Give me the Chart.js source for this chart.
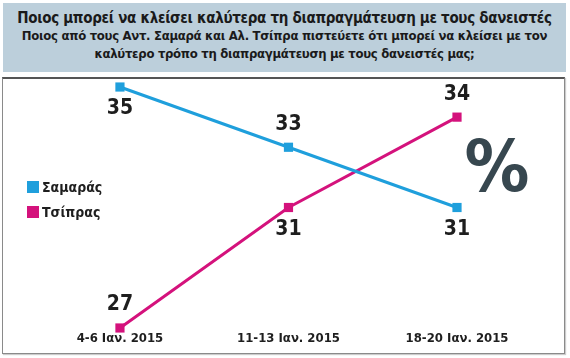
<!DOCTYPE html>
<html>
<head>
<meta charset="utf-8">
<script src="https://cdn.jsdelivr.net/npm/chart.js@4/dist/chart.umd.min.js"></script>
<style>
  html, body { margin: 0; padding: 0; background: #fff; }
  #wrap { position: relative; width: 570px; height: 358px; overflow: hidden; background: #fff; }
  #head { position: absolute; left: 3px; top: 3px; width: 563px; height: 69px; background: #bccfdb; text-align: center; color: #1a1a1a; font-family: "DejaVu Sans Condensed", "DejaVu Sans", sans-serif; }
  #t1 { font-weight: bold; font-size: 15px; line-height: 18px; padding-top: 6px; letter-spacing: -0.3px; }
  #t2 { font-weight: bold; font-size: 13px; line-height: 18px; letter-spacing: -0.3px; }
  #box { position: absolute; left: 2px; top: 77px; width: 561px; height: 274px; border: 1px solid #8a8a8a; border-top: 2px solid #555; box-shadow: 1px 1px 1px #ccc; }
  #c { position: absolute; left: 3px; top: 79px; }
</style>
</head>
<body>
<div id="wrap">
  <div id="head">
    <div id="t1">Ποιος μπορεί να κλείσει καλύτερα τη διαπραγμάτευση με τους δανειστές</div>
    <div id="t2">Ποιος από τους Αντ. Σαμαρά και Αλ. Τσίπρα πιστεύετε ότι μπορεί να κλείσει με τον<br>καλύτερο τρόπο τη διαπραγμάτευση με τους δανειστές μας;</div>
  </div>
  <div id="box"></div>
  <canvas id="c" width="560" height="272" style="width:560px;height:272px"></canvas>
</div>
<script>
const categories = ["4-6 Ιαν. 2015", "11-13 Ιαν. 2015", "18-20 Ιαν. 2015"];
const seriesNames = ["Σαμαράς", "Τσίπρας"];
const samaras = [35, 33, 31];
const tsipras = [27, 31, 34];

const colors = ["#1f9fdc", "#d4127c"];
const labelSide = [["below", "above", "below"], ["above", "below", "above"]];
const FONT = '"DejaVu Sans Condensed", "DejaVu Sans", sans-serif';

const toPts = arr => arr.map((v, i) => ({ x: i, y: v }));

const overlay = {
  id: 'overlay',
  afterDatasetsDraw(chart) {
    const ctx = chart.ctx;
    const xs = chart.scales.x;
    ctx.save();
    ctx.font = 'bold 21px ' + FONT;
    ctx.fillStyle = '#1e1e1e';
    ctx.textAlign = 'center';
    ctx.textBaseline = 'middle';
    chart.data.datasets.forEach((ds, di) => {
      const meta = chart.getDatasetMeta(di);
      meta.data.forEach((pt, i) => {
        const side = labelSide[di][i];
        const dy = side === 'above' ? -23 : 22;
        ctx.fillText(String(ds.data[i].y), pt.x, pt.y + dy);
      });
    });
    ctx.font = 'bold 13px ' + FONT;
    ctx.fillStyle = '#1e1e1e';
    categories.forEach((c, i) => {
      ctx.fillText(c, xs.getPixelForValue(i), chart.chartArea.bottom - 12);
    });
    ctx.textAlign = 'left';
    ctx.font = 'bold 14px ' + FONT;
    chart.data.datasets.forEach((ds, di) => {
      const y = 108 + di * 25;
      ctx.fillStyle = ds.borderColor;
      ctx.fillRect(24, y - 6, 12, 12);
      ctx.fillStyle = '#1e1e1e';
      ctx.fillText(ds.label, 39, y + 1);
    });
    ctx.font = 'bold 72px ' + FONT;
    ctx.fillStyle = '#37474f';
    ctx.textAlign = 'center';
    ctx.fillText('%', 494, 93);
    ctx.restore();
  }
};

new Chart(document.getElementById('c'), {
  type: 'line',
  data: {
    datasets: [
      { label: seriesNames[0], data: toPts(samaras), borderColor: colors[0], backgroundColor: colors[0] },
      { label: seriesNames[1], data: toPts(tsipras), borderColor: colors[1], backgroundColor: colors[1] }
    ]
  },
  options: {
    responsive: false,
    animation: false,
    layout: { padding: 0, autoPadding: false },
    elements: {
      line: { borderWidth: 3, tension: 0 },
      point: { pointStyle: 'rect', radius: 6.5, borderWidth: 0 }
    },
    scales: {
      x: { type: 'linear', display: false, min: -0.694, max: 2.629 },
      y: { type: 'linear', display: false, min: 26.236, max: 35.266 }
    },
    plugins: { legend: { display: false }, tooltip: { enabled: false } }
  },
  plugins: [overlay]
});
</script>
</body>
</html>
